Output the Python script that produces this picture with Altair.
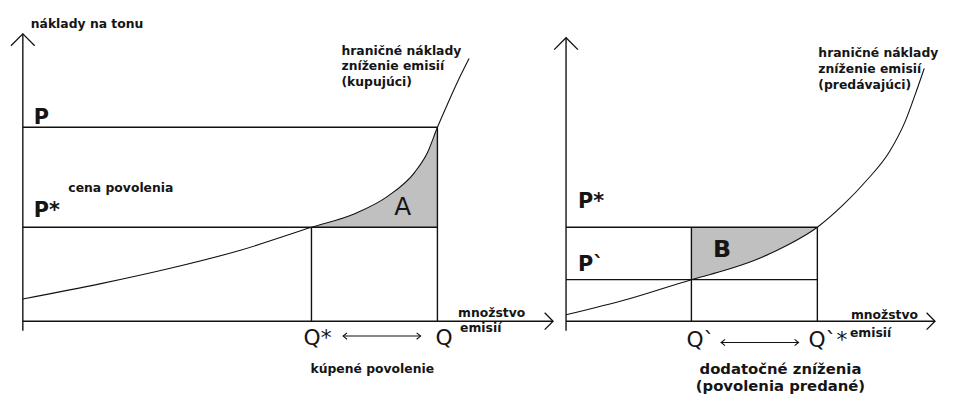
import altair as alt
import pandas as pd

FONT = "DejaVu Sans"

# ---------------- data: buyer (left panel) ----------------
buyer_q = [0, 1.885, 3.556, 5.227, 6.962, 8.019, 8.807, 9.451, 9.761, 10.0, 10.239, 10.549, 10.764]
buyer_cost = [1.184, 2.0, 2.816, 3.763, 5.0, 5.737, 6.658, 7.921, 8.974, 10.316, 11.526, 13.026, 13.974]
buyer_Q_star = 6.962
buyer_Q = 10.0
buyer_P = 10.316

# ---------------- data: seller (right panel) ----------------
seller_q = [0, 1.504, 3.024, 3.747, 4.535, 5.322, 6.062, 6.683, 7.232, 7.804, 8.186, 8.425, 8.640]
seller_cost = [0.342, 1.184, 2.211, 2.658, 3.237, 4.026, 5.0, 6.184, 7.447, 9.026, 10.658, 12.079, 13.447]
seller_Q1 = 3.024   # Q`
seller_Q2 = 6.062   # Q`*
seller_P1 = 2.211   # P`

P_star = 5.0        # cena povolenia

axis_top = [15.29, 15.08]
axis_end = [12.79, 8.90]

# ---------------- texts ----------------
y_label = "náklady na tonu"
x_label_1 = "množstvo"
x_label_2 = "emisií"
buyer_curve_label = "hraničné náklady\nzníženie emisií\n(kupujúci)"
seller_curve_label = "hraničné náklady\nzníženie emisií\n(predávajúci)"
price_label = "cena povolenia"
buyer_bottom_label = "kúpené povolenie"
seller_bottom_label = "dodatočné zníženia\n(povolenia predané)"
buyer_letters = ["P", "P*", "A", "Q*", "Q"]
seller_letters = ["P*", "P`", "B", "Q`", "Q`*"]

YDOM = [-3.921, 16.553]
H = 389
INK = "#111111"
SMALL = 12.5


def scales(xdom):
    xs = alt.Scale(domain=xdom, nice=False, zero=False)
    ys = alt.Scale(domain=YDOM, nice=False, zero=False)
    fx = lambda f: alt.X(f, type="quantitative", scale=xs, axis=None)
    fy = lambda f: alt.Y(f, type="quantitative", scale=ys, axis=None)
    dx_ = lambda v: alt.XDatum(v, type="quantitative", scale=xs, axis=None)
    dy_ = lambda v: alt.YDatum(v, type="quantitative", scale=ys, axis=None)
    return fx, fy, dx_, dy_


def label(text, q, c, dxf, dyf, dx, dy, size=SMALL, weight="bold", align="left", lh=16):
    return alt.Chart(pd.DataFrame({"t": [text]})).mark_text(
        font=FONT, fontSize=size, fontWeight=weight, align=align,
        baseline="alphabetic", dx=dx, dy=dy, color="#151515",
        lineBreak="\n", lineHeight=lh,
    ).encode(x=dxf(q), y=dyf(c), text="t:N")


def chevron(q, c, dxf, dyf, size, angle, shape="M-1,1L0,0L1,1", xo=0, yo=0, sw=1.3):
    return alt.Chart(pd.DataFrame({"k": [0]})).mark_point(
        shape=shape, size=size, angle=angle, filled=False, color=INK,
        strokeWidth=sw, opacity=1, xOffset=xo, yOffset=yo,
    ).encode(x=dxf(q), y=dyf(c))


def panel(width, xdom, cq, cc, q_lo, q_hi, segs, top, xend, arr, texts):
    fx, fy, dxf, dyf = scales(xdom)
    curve = pd.DataFrame({"q": cq, "c": cc})
    shade = alt.Chart(curve).transform_filter(
        (alt.datum.q >= q_lo) & (alt.datum.q <= q_hi)
    ).mark_area(color="#c0c0c0", interpolate="monotone", opacity=1).encode(
        x=fx("q"), y=fy("c"), y2=alt.Y2Datum(P_star)
    )
    rect = alt.Chart(pd.DataFrame(segs)).mark_rule(color=INK, strokeWidth=1.4).encode(
        x=fx("q"), y=fy("c"), x2=alt.X2("q2"), y2=alt.Y2("c2")
    )
    xaxis = alt.Chart(pd.DataFrame({"k": [0]})).mark_rule(color=INK, strokeWidth=1.4).encode(
        x=dxf(0), x2=alt.X2Datum(xend), y=dyf(0)
    )
    yaxis = alt.Chart(pd.DataFrame({"k": [0]})).mark_rule(color=INK, strokeWidth=1.4, yOffset=9.5).encode(
        x=dxf(0), y=dyf(0), y2=alt.Y2Datum(top)
    )
    line = alt.Chart(curve).mark_line(color=INK, strokeWidth=1.1, interpolate="monotone").encode(
        x=fx("q"), y=fy("c")
    )
    a_from, a_to, xo1, xo2, yo = arr
    darrow = alt.Chart(pd.DataFrame({"k": [0]})).mark_rule(
        color=INK, strokeWidth=1.1, xOffset=xo1, x2Offset=xo2, yOffset=yo
    ).encode(x=dxf(a_from), x2=alt.X2Datum(a_to), y=dyf(0))
    layers = [shade, rect, xaxis, yaxis, line,
              chevron(0, top, dxf, dyf, 576, 0),
              chevron(xend, 0, dxf, dyf, 289, 90),
              darrow,
              chevron(a_from, 0, dxf, dyf, 64, 270, shape="M-0.8,1L0,0L0.8,1", xo=xo1, yo=yo, sw=1.1),
              chevron(a_to, 0, dxf, dyf, 64, 90, shape="M-0.8,1L0,0L0.8,1", xo=xo2, yo=yo, sw=1.1)]
    for t in texts:
        layers.append(label(t[0], t[1], t[2], dxf, dyf, *t[3:]))
    return alt.layer(*layers).properties(width=width, height=H)


left = panel(
    552, [-0.310, 12.864], buyer_q, buyer_cost, buyer_Q_star, buyer_Q,
    {"q": [0, 0, buyer_Q_star, buyer_Q], "c": [buyer_P, P_star, 0, 0],
     "q2": [buyer_Q, buyer_Q, buyer_Q_star, buyer_Q], "c2": [buyer_P, P_star, P_star, buyer_P]},
    axis_top[0], axis_end[0],
    (buyer_Q_star, buyer_Q, 32, -17, 15),
    [
        (y_label, 0, axis_top[0], 8, -6),
        (buyer_letters[0], 0, buyer_P, 11, -3.5, 21, "bold"),
        (buyer_letters[1], 0, P_star, 11, -10.5, 21, "bold"),
        (price_label, 0, P_star, 46, -35.5),
        (buyer_letters[2], buyer_Q, P_star, -35, -12.5, 25, "normal", "center"),
        (buyer_curve_label, buyer_q[-1], buyer_cost[-1], -129, -4),
        (x_label_1, axis_end[0], 0, -96, -4.5),
        (x_label_2, axis_end[0], 0, -94, 10.5),
        (buyer_letters[3], buyer_Q_star, 0, -8, 24.5, 22, "normal"),
        (buyer_letters[4], buyer_Q, 0, -2, 24.5, 22, "normal"),
        (buyer_bottom_label, buyer_Q_star, 0, -1, 52.5),
    ],
)

right = panel(
    393, [-0.2387, 9.141], seller_q, seller_cost, seller_Q1, seller_Q2,
    {"q": [0, 0, seller_Q1, seller_Q2], "c": [P_star, seller_P1, 0, 0],
     "q2": [seller_Q2, seller_Q2, seller_Q1, seller_Q2], "c2": [P_star, seller_P1, P_star, P_star]},
    axis_top[1], axis_end[1],
    (seller_Q1, seller_Q2, 30, -19, 21.5),
    [
        (seller_letters[0], 0, P_star, 12, -19.5, 21, "bold"),
        (seller_letters[1], 0, seller_P1, 12, -8.5, 21, "bold"),
        (seller_letters[2], seller_Q1, P_star, 31, 30.5, 24, "bold", "center"),
        (seller_curve_label, seller_q[-1], seller_cost[-1], -107, -12, SMALL, "bold", "left", 16.5),
        (x_label_1, axis_end[1], 0, -85, -2.5),
        (x_label_2, axis_end[1], 0, -86, 15.5),
        (seller_letters[3], seller_Q1, 0, -5, 26.5, 22, "normal"),
        (seller_letters[4], seller_Q2, 0, -9, 26.5, 22, "normal"),
        (seller_bottom_label, seller_Q1, 0, 90, 53, 15, "bold", "center", 17.5),
    ],
)

chart = alt.hconcat(left, right, spacing=0, bounds="flush").properties(
    padding=0, background="white"
).configure_view(stroke=None)

chart.save("out.html", embed_options={"renderer": "svg", "actions": False})
